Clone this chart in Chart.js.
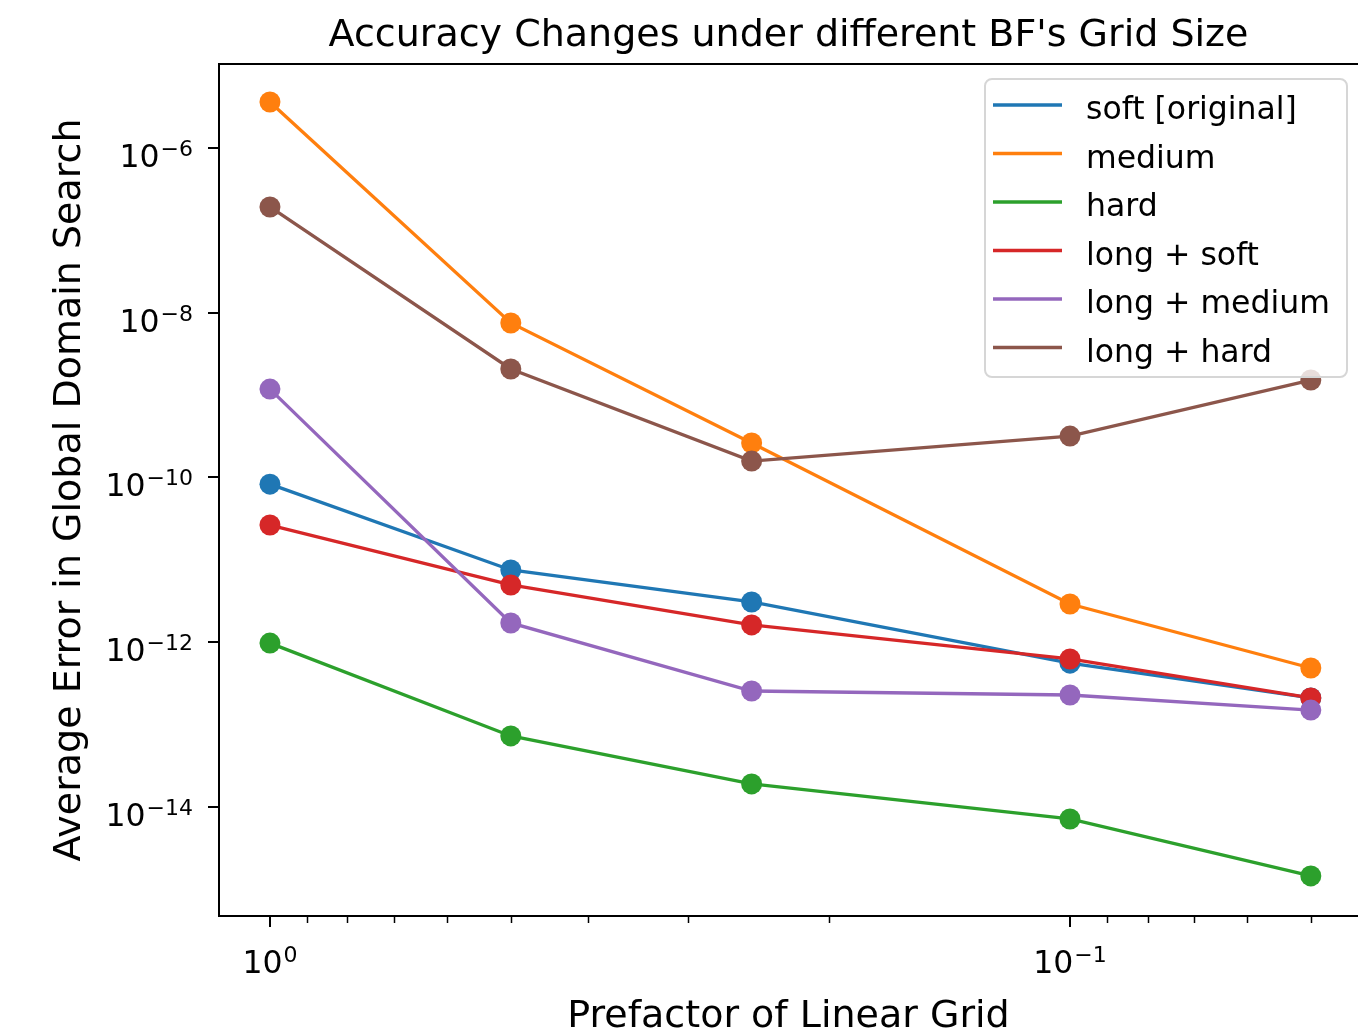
<!DOCTYPE html>
<html>
<head>
<meta charset="utf-8">
<title>Accuracy Changes under different BF's Grid Size</title>
<script src="https://cdn.jsdelivr.net/npm/chart.js@4.4.1/dist/chart.umd.min.js"></script>
<style>
  html, body { margin: 0; padding: 0; background: #fff; }
  #wrap { width: 1358px; height: 1034px; }
</style>
</head>
<body>
<div id="wrap"><canvas id="chart" width="1358" height="1034"></canvas></div>
<script>
// Grid prefactors, x axis runs from 1 down to 0.05
const prefactors = [1, 0.5, 0.25, 0.1, 0.05];

const seriesNames = ['soft [original]', 'medium', 'hard', 'long + soft', 'long + medium', 'long + hard'];
const seriesColors = ['#1f77b4', '#ff7f0e', '#2ca02c', '#d62728', '#9467bd', '#8c564b'];

// Average error per prefactor
const softOriginal = [8.3e-11, 7.55e-12, 3.09e-12, 5.6e-13, 2.12e-13];
const medium       = [3.58e-6, 7.48e-9, 2.62e-10, 2.92e-12, 4.89e-13];
const hard         = [9.8e-13, 7.33e-14, 1.92e-14, 7.21e-15, 1.47e-15];
const longSoft     = [2.65e-11, 4.97e-12, 1.63e-12, 6.29e-13, 2.12e-13];
const longMedium   = [1.18e-9, 1.72e-12, 2.57e-13, 2.30e-13, 1.51e-13];
const longHard     = [1.91e-7, 2.07e-9, 1.58e-10, 3.18e-10, 1.52e-9];

const seriesValues = [softOriginal, medium, hard, longSoft, longMedium, longHard];

// Ticks and their labels (10^exp)
const xMajorTicks = [1, 0.1];
const xTickExponents = ['0', '\u22121'];
const xMinorTicks = [0.9, 0.8, 0.7, 0.6, 0.5, 0.4, 0.3, 0.2, 0.09, 0.08, 0.07, 0.06, 0.05];
const yMajorTicks = [1e-6, 1e-8, 1e-10, 1e-12, 1e-14];
const yTickExponents = ['\u22126', '\u22128', '\u221210', '\u221212', '\u221214'];

const chartTitle = "Accuracy Changes under different BF's Grid Size";
const xAxisTitle = 'Prefactor of Linear Grid';
const yAxisTitle = 'Average Error in Global Domain Search';

const FONT = '"DejaVu Sans", Verdana, sans-serif';

// "10" with a raised exponent, like matplotlib's log labels
function drawPow(ctx, exp, x, y, align) {
    const baseFont = '31.5px ' + FONT;
    const supFont = '22px ' + FONT;
    ctx.font = baseFont;
    const wBase = ctx.measureText('10').width;
    ctx.font = supFont;
    const wExp = ctx.measureText(exp).width;
    const total = wBase + 1 + wExp;
    const left = align === 'right' ? x - total : x - total / 2;
    ctx.textAlign = 'left';
    ctx.textBaseline = 'alphabetic';
    ctx.font = baseFont;
    ctx.fillText('10', left, y);
    ctx.font = supFont;
    ctx.fillText(exp, left + wBase + 1, y - 11);
}

const axesDecor = {
    id: 'axesDecor',
    afterDraw(chart) {
        const ctx = chart.ctx;
        const area = chart.chartArea;
        const xs = chart.scales.x;
        const ys = chart.scales.y;
        ctx.save();
        ctx.fillStyle = '#000';
        ctx.strokeStyle = '#000';

        // spines (right one falls off the canvas)
        ctx.lineWidth = 2;
        ctx.beginPath();
        ctx.moveTo(area.right + 2, area.top);
        ctx.lineTo(area.left, area.top);
        ctx.lineTo(area.left, area.bottom);
        ctx.lineTo(area.right + 2, area.bottom);
        ctx.stroke();

        // x ticks
        xMajorTicks.forEach((v, i) => {
            const px = Math.round(xs.getPixelForValue(v));
            ctx.lineWidth = 2;
            ctx.beginPath();
            ctx.moveTo(px, area.bottom);
            ctx.lineTo(px, area.bottom + 11);
            ctx.stroke();
            drawPow(ctx, xTickExponents[i], px, area.bottom + 57, 'center');
        });
        xMinorTicks.forEach(v => {
            const px = Math.round(xs.getPixelForValue(v)) + 0.5;
            ctx.lineWidth = 1.5;
            ctx.beginPath();
            ctx.moveTo(px, area.bottom);
            ctx.lineTo(px, area.bottom + 7);
            ctx.stroke();
        });

        // y ticks
        yMajorTicks.forEach((v, i) => {
            const py = Math.round(ys.getPixelForValue(v));
            ctx.lineWidth = 2;
            ctx.beginPath();
            ctx.moveTo(area.left - 11, py);
            ctx.lineTo(area.left, py);
            ctx.stroke();
            drawPow(ctx, yTickExponents[i], area.left - 26, py + 18.5, 'right');
        });

        // title and axis titles
        ctx.textAlign = 'center';
        ctx.textBaseline = 'alphabetic';
        ctx.font = '38px ' + FONT;
        ctx.fillText(chartTitle, (area.left + area.right) / 2, 46);
        ctx.fillText(xAxisTitle, (area.left + area.right) / 2, 1027);
        ctx.save();
        ctx.translate(80, (area.top + area.bottom) / 2);
        ctx.rotate(-Math.PI / 2);
        ctx.fillText(yAxisTitle, 0, 0);
        ctx.restore();

        // legend box, upper right
        const lx = 985, ly = 79, lw = 362, lh = 298;
        ctx.beginPath();
        ctx.roundRect(lx, ly, lw, lh, 7);
        ctx.fillStyle = 'rgba(255,255,255,0.8)';
        ctx.fill();
        ctx.lineWidth = 2;
        ctx.strokeStyle = '#d6d6d6';
        ctx.stroke();

        ctx.font = '31.5px ' + FONT;
        ctx.textAlign = 'left';
        seriesNames.forEach((name, i) => {
            const rowY = 105 + i * 48.5;
            ctx.strokeStyle = seriesColors[i];
            ctx.lineWidth = 3.3;
            ctx.beginPath();
            ctx.moveTo(993, rowY);
            ctx.lineTo(1062, rowY);
            ctx.stroke();
            ctx.fillStyle = '#000';
            ctx.fillText(name, 1086, rowY + 14);
        });

        ctx.restore();
    }
};

const datasets = seriesValues.map((vals, i) => ({
    label: seriesNames[i],
    data: prefactors.map((x, j) => ({ x: x, y: vals[j] })),
    borderColor: seriesColors[i],
    backgroundColor: seriesColors[i],
    pointBackgroundColor: seriesColors[i],
    borderWidth: 3.3,
    pointRadius: 10.5,
    pointHoverRadius: 10.5,
    pointBorderWidth: 0,
    tension: 0,
    // later series sit on top
    order: seriesNames.length - i,
    clip: false
}));

new Chart(document.getElementById('chart'), {
    type: 'line',
    data: { datasets: datasets },
    options: {
        responsive: false,
        animation: false,
        events: [],
        devicePixelRatio: 1,
        layout: {
            autoPadding: false,
            padding: { left: 219, top: 64, right: 0, bottom: 118 }
        },
        scales: {
            x: {
                type: 'logarithmic',
                reverse: true,
                min: 0.04365,
                max: 1.158,
                display: false
            },
            y: {
                type: 'logarithmic',
                min: 4.8e-16,
                max: 1.035e-5,
                display: false
            }
        },
        plugins: {
            legend: { display: false },
            tooltip: { enabled: false },
            title: { display: false }
        }
    },
    plugins: [axesDecor]
});
</script>
</body>
</html>
